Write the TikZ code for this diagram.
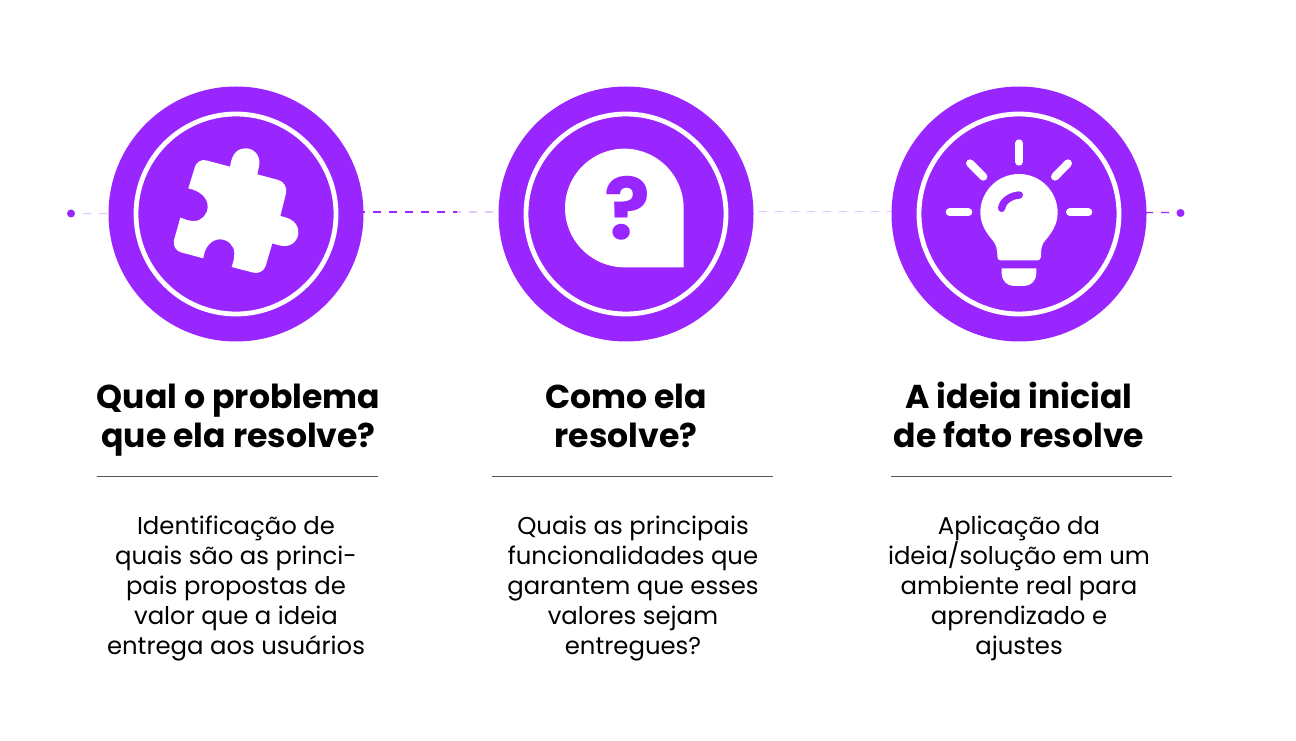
\documentclass[tikz,border=0pt]{standalone}
\usepackage{fontspec}
\setmainfont{Poppins}
\usetikzlibrary{backgrounds}
\AtBeginDocument{\lineskiplimit=-20pt\relax}
\definecolor{roxo}{HTML}{9925FF}
\definecolor{lilas}{HTML}{E2C8FF}
\definecolor{regua}{HTML}{555555}
\tikzset{
  disc/.style={circle,fill=roxo,draw=none,minimum size=255*0.75pt,inner sep=0pt},
  ring/.style={draw=white,line width=3.6pt},
  endpoint/.style={circle,fill=roxo,draw=none,minimum size=6pt,inner sep=0pt},
  forte/.style={draw=roxo,line width=0.9pt,dash pattern=on 6pt off 6pt},
  fraco/.style={draw=lilas,line width=0.9pt,dash pattern=on 6pt off 6pt},
  regra/.style={draw=regua,line width=0.7pt},
  titulo/.style={font=\fontsize{24.8}{29.2}\selectfont\bfseries,align=center,text=black,inner sep=0pt},
  corpo/.style={font=\fontsize{18.25}{22.5}\selectfont,align=center,text=black,inner sep=0pt},
  icone/.style={fill=white,draw=none},
  raio/.style={draw=white,line width=6pt,line cap=round},
}
\begin{document}
\begin{tikzpicture}[x=0.75pt,y=-0.75pt]
\useasboundingbox (0,0) rectangle (1296,741);
% discs
\node[disc] (c1) at (236,214) {};
\node[disc] (c2) at (626,214) {};
\node[disc] (c3) at (1019,214) {};
\node[endpoint] (d1) at (71,213.5) {};
\node[endpoint] (d2) at (1180.5,213) {};
% connectors
\begin{scope}[on background layer]
\draw[fraco,dash phase=3pt] (d1.center) -- (c1.center);
\coordinate (b2) at (457,212);
\draw[forte,dash phase=5.25pt] ([yshift=1.5pt]c1.center) -- (b2);
\draw[fraco,dash phase=3pt] (b2) -- ([yshift=1.5pt]c2.center);
\draw[fraco,dash phase=8.25pt] ([yshift=1.9pt]c2.center) -- ([yshift=1.9pt]c3.center);
\draw[forte,dash phase=1.5pt] ([yshift=1.3pt]c3.center) -- ([yshift=0.3pt]d2.center);
\end{scope}
% rings
\draw[ring] (c1) circle[radius=100];
\draw[ring] (c2) circle[radius=100];
\draw[ring] (c3) circle[radius=100];
% puzzle
\begin{scope}[shift={(100,80)},x=0.25pt,y=-0.25pt]
\fill[icone] (318,241) -- (390,260)
 .. controls (393,248) and (396,205) .. (437,205)
 .. controls (462,205) and (480,226) .. (478,250)
 .. controls (477,262) and (474,272) .. (472,283)
 -- (535,300) .. controls (552,305) and (562,322) .. (558,340)
 -- (541,408) .. controls (552,411) and (595,417) .. (595,457)
 .. controls (595,482) and (574,500) .. (550,498)
 .. controls (538,497) and (528,493) .. (517,490)
 -- (497,558) .. controls (492,573) and (476,582) .. (460,578)
 -- (395,561) .. controls (398,550) and (403,540) .. (403,520)
 .. controls (403,497) and (384,478) .. (360,478)
 .. controls (333,478) and (313,503) .. (310,535)
 -- (243,517) .. controls (228,513) and (218,497) .. (222,480)
 -- (241,413) .. controls (252,416) and (262,423) .. (282,423)
 .. controls (305,423) and (323,403) .. (323,380)
 .. controls (323,352) and (300,333) .. (265,325)
 -- (285,260) .. controls (289,247) and (304,237) .. (318,241) -- cycle;
\end{scope}
% bubble
\begin{scope}[shift={(490,80)},x=0.25pt,y=-0.25pt]
\fill[icone] (403,206) .. controls (501,206) and (581,286) .. (581,384)
 -- (581,562) -- (403,562) .. controls (305,562) and (225,482) .. (225,384)
 .. controls (225,286) and (305,206) .. (403,206) -- cycle;
\node[font=\fontsize{64}{64}\selectfont\bfseries,text=roxo,inner sep=0pt] (q) at (412,385) {?};
\end{scope}
% bulb
\begin{scope}[shift={(885,80)},x=0.25pt,y=-0.25pt]
\fill[icone] (402,282) .. controls (466,282) and (518,334) .. (518,398)
 .. controls (518,435) and (497,462) .. (482,480)
 .. controls (470,492) and (468,505) .. (468,530)
 .. controls (468,537) and (463,541) .. (458,541)
 -- (346,541) .. controls (341,541) and (337,537) .. (337,530)
 .. controls (337,505) and (333,492) .. (322,480)
 .. controls (307,462) and (286,435) .. (286,398)
 .. controls (286,334) and (338,282) .. (402,282) -- cycle;
\fill[icone] (350,565) -- (454,565) -- (454,580)
 .. controls (454,602) and (437,618) .. (418,618) -- (386,618)
 .. controls (367,618) and (350,602) .. (350,580) -- cycle;
\draw[draw=roxo,line width=5.5pt,line cap=round] (350,385) .. controls (352,365) and (375,347) .. (403,345);
\draw[raio] (402,190) -- (402,245);
\draw[raio] (255,250) -- (295,290);
\draw[raio] (549,250) -- (510,290);
\draw[raio] (194,397) -- (250,397);
\draw[raio] (555,397) -- (610,397);
\end{scope}
% titles
\node[titulo] (t1) at (238.5,420) {\strut Qual o problema\\\strut que ela resolve?};
\node[titulo] (t2) at (626,420) {\strut Como ela\\\strut resolve?};
\node[titulo] (t3) at (1019,420) {\strut A ideia inicial\\\strut de fato resolve};
% rules
\coordinate (r1a) at (97,476); \coordinate (r1b) at (378,476);
\coordinate (r2a) at (492,476); \coordinate (r2b) at (773,476);
\coordinate (r3a) at (891,476); \coordinate (r3b) at (1172,476);
\draw[regra] (r1a) -- (r1b);
\draw[regra] (r2a) -- (r2b);
\draw[regra] (r3a) -- (r3b);
% bodies
\node[corpo] (p1) at (236,588) {\strut Identificação de\\quais são as princi-\\pais propostas de\\valor que a ideia\\\strut entrega aos usuários};
\node[corpo] (p2) at (633,588) {\strut Quais as principais\\funcionalidades que\\garantem que esses\\valores sejam\\\strut entregues?};
\node[corpo] (p3) at (1019,588) {\strut Aplicação da\\ideia/solução em um\\ambiente real para\\aprendizado e\\\strut ajustes};
\end{tikzpicture}
\end{document}
